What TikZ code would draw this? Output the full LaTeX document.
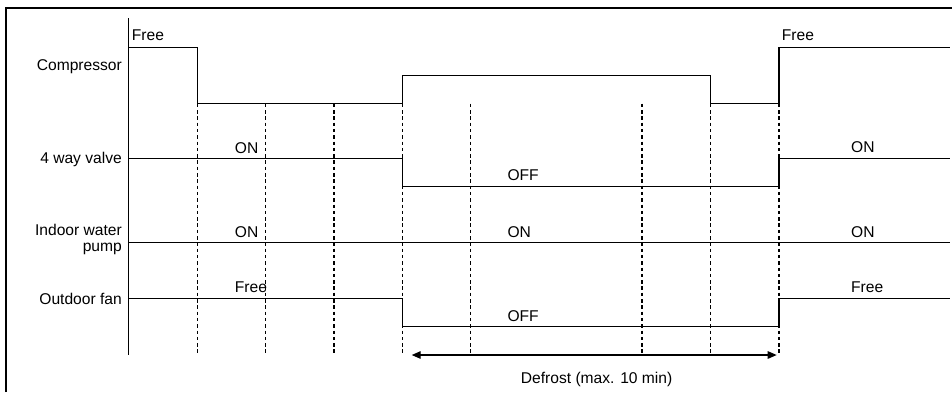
\documentclass[tikz,border=0pt]{standalone}
\usepackage{fontspec}
\setmainfont{Liberation Sans}
\usetikzlibrary{arrows.meta}
\begin{document}
\begin{tikzpicture}[x=1pt,y=-1pt,
  wave/.style={line width=1.3pt,line join=miter},
  grid/.style={line width=1.1pt,dash pattern=on 3.5pt off 2.8pt},
  lbl/.style={inner sep=0pt,font=\fontsize{15.6}{16.5}\selectfont},
  frame/.style={line width=1.8pt}]
\useasboundingbox (0,0) rectangle (952,392);
% frame
\draw[frame] (5.7,392) -- (5.7,7.8) -- (952,7.8);
% time coordinates
\foreach \n/\x in {0/128.3,1/197.3,2/265.7,3/334,4/402.7,5/470.5,6/642,7/710.7,8/779,9/950}{
  \coordinate (t\n) at (\x,0);
}
% axis
\coordinate (axtop) at (128.3,18);
\coordinate (axbot) at (128.3,355);
\draw[line width=1.4pt] (axtop) -- (axbot);
% dashed grid
\foreach \n in {1,...,8}{
  \draw[grid] (t\n |- 0,103.7) -- (t\n |- 0,355);
}
% compressor
\draw[wave] (t0 |- 0,47.3) -- (t1 |- 0,47.3) -- (t1 |- 0,103.7) -- (t4 |- 0,103.7)
  -- (t4 |- 0,75.7) -- (t7 |- 0,75.7) -- (t7 |- 0,103.7) -- (t8 |- 0,103.7)
  -- (t8 |- 0,47.3) -- (t9 |- 0,47.3);
% 4 way valve
\draw[wave] (t0 |- 0,158.3) -- (t4 |- 0,158.3) -- (t4 |- 0,186.7) -- (t8 |- 0,186.7)
  -- (t8 |- 0,158.3) -- (t9 |- 0,158.3);
% indoor water pump
\draw[wave] (t0 |- 0,242.3) -- (t9 |- 0,242.3);
% outdoor fan
\draw[wave] (t0 |- 0,298.3) -- (t4 |- 0,298.3) -- (t4 |- 0,326.7) -- (t8 |- 0,326.7)
  -- (t8 |- 0,298.3) -- (t9 |- 0,298.3);
% defrost arrow
\coordinate (defl) at (411.7,355);
\coordinate (defr) at (776.7,355);
\draw[line width=1.3pt,{Triangle[length=9pt,width=7.5pt]}-{Triangle[length=9pt,width=7.5pt]}] (defl) -- (defr);
% row labels
\node[lbl,anchor=base east] (lcomp) at (122,70.7) {Compressor};
\node[lbl,anchor=base east] (lvalve) at (122,163.3) {4 way valve};
\node[lbl,anchor=base east] (lpump1) at (122,235.5) {Indoor water};
\node[lbl,anchor=base east] (lpump2) at (122,251.7) {pump};
\node[lbl,anchor=base east] (lfan) at (122,304) {Outdoor fan};
% state labels
\node[lbl,anchor=base west] (s1) at (131.7,40.7) {Free};
\node[lbl,anchor=base west] (s2) at (781.7,40.7) {Free};
\node[lbl,anchor=base west] (s3) at (234.7,153.3) {ON};
\node[lbl,anchor=base west] (s4) at (507.3,180.7) {OFF};
\node[lbl,anchor=base west] (s5) at (851,152.3) {ON};
\node[lbl,anchor=base west] (s6) at (234.7,237) {ON};
\node[lbl,anchor=base west] (s7) at (507.3,237) {ON};
\node[lbl,anchor=base west] (s8) at (851,237) {ON};
\node[lbl,anchor=base west] (s9) at (234.7,292.7) {Free};
\node[lbl,anchor=base west] (s10) at (507.3,321.7) {OFF};
\node[lbl,anchor=base west] (s11) at (851,292.7) {Free};
\node[lbl,anchor=base west] (sdef) at (520.7,383) {Defrost (max. 10 min)};
\end{tikzpicture}
\end{document}
